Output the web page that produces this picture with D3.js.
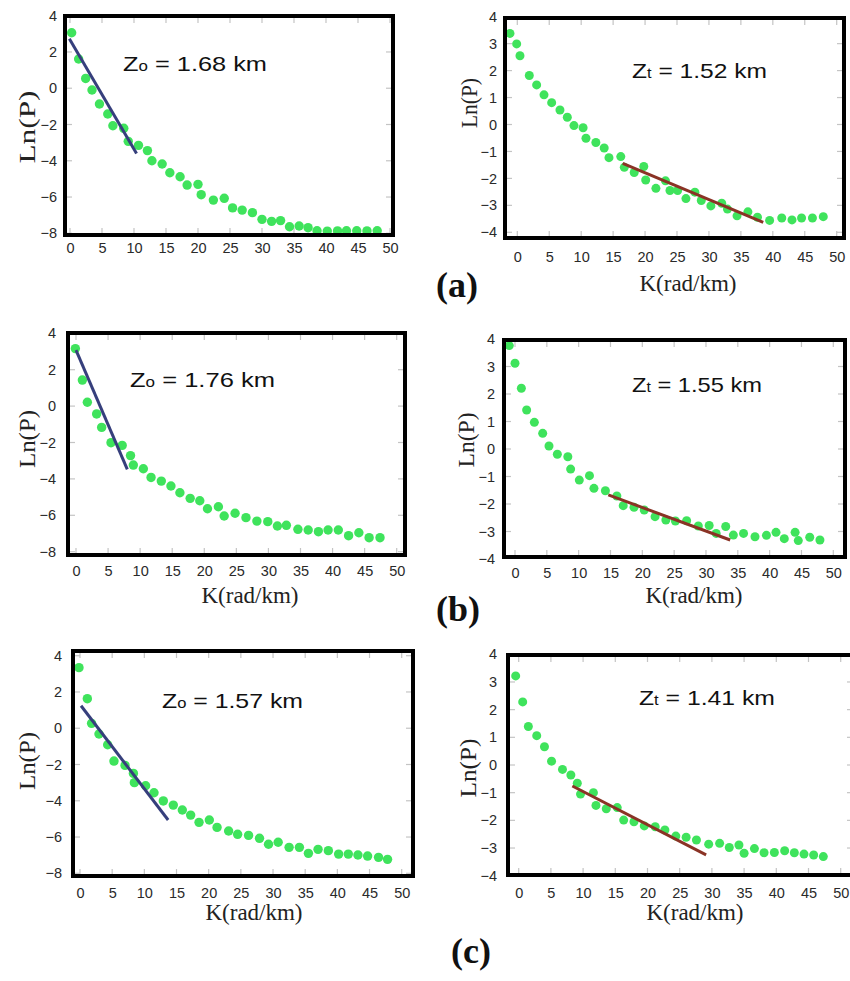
<!DOCTYPE html>
<html>
<head>
<meta charset="utf-8">
<script src="https://cdn.jsdelivr.net/npm/d3@7"></script>
<style>
  body { margin: 0; background: #fff; }
  svg { display: block; }
</style>
</head>
<body>
<svg id="fig" width="850" height="981"></svg>
<script>
// Power spectra: wavenumber K (rad/km) against Ln(P)
// (a) profile: deep (Zo) and shallow (Zt) estimates
const kA_zo  = [0.26,1.35,2.45,3.44,4.6,5.9,6.7,8.4,9.1,10.7,12.1,12.8,14.4,15.6,17.2,18.3,20.0,20.5,22.4,24.1,25.4,26.9,28.5,30.0,31.5,32.9,34.3,35.8,37.2,38.6,40.2,41.8,43.2,44.8,46.4,48.0];
const lnA_zo = [3.06,1.61,0.54,-0.1,-0.87,-1.42,-2.07,-2.21,-2.93,-3.15,-3.44,-4.0,-4.18,-4.66,-4.88,-5.34,-5.3,-5.87,-6.17,-6.07,-6.6,-6.72,-6.86,-7.23,-7.34,-7.3,-7.64,-7.6,-7.69,-7.86,-7.88,-7.87,-7.86,-7.86,-7.87,-7.86];
const kA_zt  = [-1.15,-0.1,0.42,1.88,3.03,4.18,5.38,6.68,7.83,8.87,10.3,10.75,12.3,13.6,14.35,16.2,16.75,18.3,19.8,20.1,21.7,23.2,23.9,25.1,26.4,27.8,28.8,30.3,32.0,32.9,34.4,36.1,37.6,39.5,41.4,43.0,44.5,46.2,47.9];
const lnA_zt = [3.38,2.99,2.55,1.82,1.47,1.1,0.81,0.54,0.27,-0.04,-0.12,-0.51,-0.67,-0.87,-1.23,-1.19,-1.59,-1.78,-1.56,-2.06,-2.37,-2.09,-2.45,-2.45,-2.75,-2.51,-2.82,-3.02,-2.92,-3.14,-3.39,-3.24,-3.44,-3.56,-3.47,-3.54,-3.47,-3.47,-3.42];

// (b) profile
const kB_zo  = [-0.1,0.99,1.77,3.22,4.0,5.46,7.2,8.5,8.94,10.5,11.7,13.3,14.8,16.2,17.8,19.3,20.5,22.2,23.1,24.8,26.5,28.2,29.9,31.4,32.8,34.6,36.2,37.8,39.3,40.9,42.5,44.1,45.7,47.4];
const lnB_zo = [3.16,1.43,0.21,-0.43,-1.17,-2.01,-2.16,-2.72,-3.24,-3.44,-3.92,-4.12,-4.39,-4.76,-5.07,-5.2,-5.64,-5.53,-6.04,-5.89,-6.13,-6.32,-6.35,-6.59,-6.55,-6.77,-6.81,-6.9,-6.81,-6.81,-7.12,-6.96,-7.23,-7.23];
const kB_zt  = [-0.9,0,1.0,1.83,3.04,4.35,5.34,6.65,8.3,8.74,10.1,11.7,12.4,14.2,16.0,17.0,18.7,20.3,22.0,23.7,25.2,26.96,28.8,30.5,31.6,33.1,34.3,35.9,37.7,39.5,41.0,42.3,44.0,44.5,46.3,47.9];
const lnB_zt = [3.76,3.12,2.21,1.42,0.97,0.57,0.11,-0.19,-0.28,-0.73,-1.13,-0.97,-1.43,-1.52,-1.71,-2.06,-2.12,-2.22,-2.46,-2.58,-2.62,-2.61,-2.8,-2.78,-3.07,-2.82,-3.13,-3.07,-3.19,-3.14,-3.03,-3.26,-3.03,-3.33,-3.21,-3.31];

// (c) profile
const kC_zo  = [-0.16,1.14,1.8,2.95,4.3,5.28,7.0,8.3,8.45,10.2,11.5,12.95,14.5,15.9,17.2,18.5,20.1,21.3,23.1,24.5,26.2,27.9,29.3,30.8,32.5,34.1,35.5,37.0,38.6,40.2,41.7,43.2,44.7,46.4,47.8];
const lnC_zo = [3.34,1.63,0.27,-0.32,-0.91,-1.81,-2.05,-2.49,-3.0,-3.17,-3.56,-4.01,-4.24,-4.51,-4.79,-5.19,-5.06,-5.47,-5.67,-5.85,-5.91,-6.07,-6.4,-6.29,-6.57,-6.57,-6.9,-6.68,-6.75,-6.94,-6.94,-6.99,-7.05,-7.12,-7.23];
const kC_zt  = [-0.47,0.62,1.5,2.8,4.0,5.1,6.8,8.1,9.1,9.6,11.6,12.0,13.6,15.3,16.3,17.9,19.5,21.2,22.7,24.4,26.0,27.6,29.5,31.2,32.7,34.2,35.0,36.6,38.1,39.7,41.3,42.8,44.3,45.8,47.3];
const lnC_zt = [3.22,2.28,1.39,1.06,0.66,0.14,-0.16,-0.36,-0.66,-1.05,-1.0,-1.46,-1.58,-1.54,-1.99,-2.05,-2.2,-2.23,-2.35,-2.57,-2.61,-2.71,-2.86,-2.83,-2.98,-2.89,-3.19,-3.02,-3.17,-3.16,-3.1,-3.17,-3.22,-3.25,-3.31];

// Straight-line fits (end points: K, Ln(P))
const fitA_zo = { k: [-0.1, 10.4], ln: [2.73, -3.6] };
const fitA_zt = { k: [16.5, 38.5], ln: [-1.44, -3.63] };
const fitB_zo = { k: [0, 8.0],     ln: [3.08, -3.48] };
const fitB_zt = { k: [14.66, 33.8], ln: [-1.67, -3.31] };
const fitC_zo = { k: [0.16, 13.7], ln: [1.24, -5.06] };
const fitC_zt = { k: [8.33, 29.1], ln: [-0.76, -3.25] };

// Axis ticks and labels
const kTicks = [0, 5, 10, 15, 20, 25, 30, 35, 40, 45, 50];
const lnTicksDeep = [-8, -6, -4, -2, 0, 2, 4];
const lnTicksShallow = [-4, -3, -2, -1, 0, 1, 2, 3, 4];
const depthSymbols = ["o", "t", "o", "t", "o", "t"];
const depthValues = ["1.68", "1.52", "1.76", "1.55", "1.57", "1.41"];
const rowLabels = ["(a)", "(b)", "(c)"];
const xTitle = "K(rad/km)";
const yTitle = "Ln(P)";

// Page layout of the six panels
const panels = [
  { k: kA_zo, ln: lnA_zo, fit: fitA_zo, deep: true,  frame: [63, 14, 395, 237],  xPx: [70, 390],     yPx: [233.3, 15.7], xPad: 5.5,  yGap: 6,  yT: [27, 127, 73],  xT: null,       ann: [123, 71, 144] },
  { k: kA_zt, ln: lnA_zt, fit: fitA_zt, deep: false, frame: [503, 16, 846, 240], xPx: [517.3, 836.7], yPx: [232.3, 16.7], xPad: 11.5, yGap: 6,  yT: [469, 103, 50], xT: [688, 291], ann: [632, 78, 135] },
  { k: kB_zo, ln: lnB_zo, fit: fitB_zo, deep: true,  frame: [66, 331, 407, 557], xPx: [76, 396.7],    yPx: [551.7, 333.3], xPad: 8.5, yGap: 10, yT: [27, 439, 58],  xT: [250, 603], ann: [130, 387, 145] },
  { k: kB_zt, ln: lnB_zt, fit: fitB_zt, deep: false, frame: [502, 338, 847, 559], xPx: [515, 833.3],  yPx: [559, 339],    xPad: 9,    yGap: 7,  yT: [466, 440, 55], xT: [694, 603], ann: [632, 392, 130] },
  { k: kC_zo, ln: lnC_zo, fit: fitC_zo, deep: true,  frame: [71, 649, 415, 878], xPx: [80, 401.7],    yPx: [873.3, 655.7], xPad: 9.5, yGap: 9,  yT: [27, 761, 58],  xT: [254, 920], ann: [162, 708, 141] },
  { k: kC_zt, ln: lnC_zt, fit: fitC_zt, deep: false, frame: [506, 653, 856, 877], xPx: [518.7, 840.7], yPx: [875.7, 654.3], xPad: 10.5, yGap: 9, yT: [468, 768, 59], xT: [695, 920], ann: [639, 705, 136] }
];
const rowLabelPos = [[457, 297], [458, 621], [471, 963]];

const svg = d3.select("#fig");
svg.append("rect").attr("width", 850).attr("height", 981).attr("fill", "#fff");

const dotColor = "#3fe35c";
const deepFitColor = "#363f7c";
const shallowFitColor = "#8a3325";
const sansFont = "'Liberation Sans', Arial, sans-serif";
const serifFont = "'Liberation Serif', 'Times New Roman', serif";

panels.forEach((p, i) => {
  const g = svg.append("g");
  const [fx0, fy0, fx1, fy1] = p.frame;
  const yDomain = p.deep ? [-8, 4] : [-4, 4];
  const yTicks = p.deep ? lnTicksDeep : lnTicksShallow;

  const x = d3.scaleLinear().domain([0, 50]).range(p.xPx);
  const y = d3.scaleLinear().domain(yDomain).range(p.yPx);

  // faint inner tick marks along the frame
  const tickLen = 5;
  const inner = g.append("g").attr("stroke", "#c4c4c4").attr("stroke-width", 1.2);
  kTicks.forEach(t => {
    const xp = x(t);
    if (xp > fx0 + 3 && xp < fx1 - 3) {
      inner.append("line").attr("x1", xp).attr("x2", xp).attr("y1", fy0 + 4).attr("y2", fy0 + 4 + tickLen);
      inner.append("line").attr("x1", xp).attr("x2", xp).attr("y1", fy1 - 4).attr("y2", fy1 - 4 - tickLen);
    }
  });
  yTicks.forEach(t => {
    const yp = y(t);
    if (yp > fy0 + 3 && yp < fy1 - 3) {
      inner.append("line").attr("y1", yp).attr("y2", yp).attr("x1", fx0 + 4).attr("x2", fx0 + 4 + tickLen);
      inner.append("line").attr("y1", yp).attr("y2", yp).attr("x1", fx1 - 4).attr("x2", fx1 - 4 - tickLen);
    }
  });

  // spectrum points
  const pts = p.k.map((kv, j) => ({ k: kv, ln: p.ln[j] }));
  g.append("g").selectAll("circle").data(pts).join("circle")
    .attr("cx", d => x(d.k))
    .attr("cy", d => y(d.ln))
    .attr("r", p.deep ? 4.7 : 4.5)
    .attr("fill", dotColor);

  // fitted line segment
  const fitPts = p.fit.k.map((kv, j) => [x(kv), y(p.fit.ln[j])]);
  g.append("path")
    .attr("d", d3.line()(fitPts))
    .attr("stroke", p.deep ? deepFitColor : shallowFitColor)
    .attr("stroke-width", 3)
    .attr("fill", "none");

  // frame
  g.append("rect")
    .attr("x", fx0 + 2).attr("y", fy0 + 2)
    .attr("width", fx1 - fx0 - 4).attr("height", fy1 - fy0 - 4)
    .attr("fill", "none").attr("stroke", "#000").attr("stroke-width", 4);

  // tick labels
  const xAxis = g.append("g")
    .attr("transform", `translate(0,${fy1})`)
    .call(d3.axisBottom(x).tickValues(kTicks).tickSize(0).tickPadding(p.xPad).tickFormat(d3.format("d")));
  const yAxis = g.append("g")
    .attr("transform", `translate(${fx0},0)`)
    .call(d3.axisLeft(y).tickValues(yTicks).tickSize(0).tickPadding(p.yGap).tickFormat(d3.format("d")));
  [xAxis, yAxis].forEach(ax => {
    ax.select(".domain").remove();
    ax.selectAll("text").attr("font-family", sansFont).attr("font-size", 14.5).attr("fill", "#2a2a2a");
  });

  // axis titles
  g.append("text")
    .attr("transform", `translate(${p.yT[0]},${p.yT[1]}) rotate(-90)`)
    .attr("text-anchor", "middle").attr("dy", "0.33em")
    .attr("font-family", serifFont).attr("font-size", 23).attr("fill", "#222")
    .attr("textLength", p.yT[2]).attr("lengthAdjust", "spacingAndGlyphs")
    .text(yTitle);
  if (p.xT) {
    g.append("text")
      .attr("x", p.xT[0]).attr("y", p.xT[1])
      .attr("text-anchor", "middle")
      .attr("font-family", serifFont).attr("font-size", 23).attr("fill", "#222")
      .text(xTitle);
  }

  // depth annotation
  const ann = g.append("text")
    .attr("x", p.ann[0]).attr("y", p.ann[1])
    .attr("font-family", sansFont).attr("font-size", 21).attr("fill", "#111")
    .attr("textLength", p.ann[2]).attr("lengthAdjust", "spacingAndGlyphs");
  ann.append("tspan").text("Z");
  ann.append("tspan").attr("font-size", 14).text(depthSymbols[i]);
  ann.append("tspan").text(` = ${depthValues[i]} km`);
});

// row captions
rowLabels.forEach((lab, r) => {
  svg.append("text")
    .attr("x", rowLabelPos[r][0]).attr("y", rowLabelPos[r][1])
    .attr("text-anchor", "middle")
    .attr("font-family", serifFont).attr("font-weight", "bold").attr("font-size", 36)
    .attr("fill", "#111")
    .text(lab);
});
</script>
</body>
</html>
